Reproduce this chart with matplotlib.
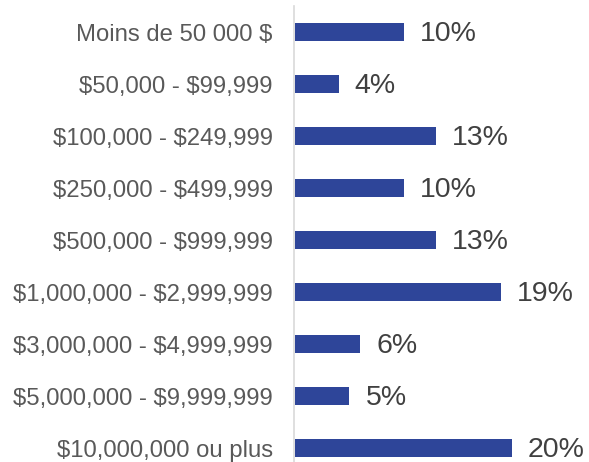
import matplotlib.pyplot as plt

plt.rcParams['font.family'] = ['Liberation Sans', 'DejaVu Sans']
plt.rcParams['text.parse_math'] = False

categories = ["Moins de 50 000 $", "$50,000 - $99,999", "$100,000 - $249,999",
              "$250,000 - $499,999", "$500,000 - $999,999", "$1,000,000 - $2,999,999",
              "$3,000,000 - $4,999,999", "$5,000,000 - $9,999,999", "$10,000,000 ou plus"]
values = [10, 4, 13, 10, 13, 19, 6, 5, 20]

fig = plt.figure(figsize=(5.89, 4.62), dpi=100)
ax = fig.add_axes([0.4995, -0.026, 0.5005, 1.013])

y = list(range(len(categories)))
bars = ax.barh(y, values, height=0.35, color='#2E4599', left=0.1)
ax.set_ylim(len(categories) - 0.5, -0.5)
ax.set_xlim(0, 27.2)

for b, v in zip(bars, values):
    ax.annotate(f"{v}%", xy=(b.get_x() + b.get_width(), b.get_y() + b.get_height() / 2),
                xytext=(11.5, -1.5), textcoords='offset points',
                va='center', ha='left', fontsize=20.5, color='#404040')

ax.set_yticks(y)
ax.set_yticklabels(categories, fontsize=17.2, color='#595959')
ax.tick_params(left=False, bottom=False, labelbottom=False, pad=12)
for s in ['top', 'right', 'bottom']:
    ax.spines[s].set_visible(False)
ax.spines['left'].set_color('#D9D9D9')
ax.spines['left'].set_linewidth(1.2)

fig.savefig("out.png", dpi=100)
